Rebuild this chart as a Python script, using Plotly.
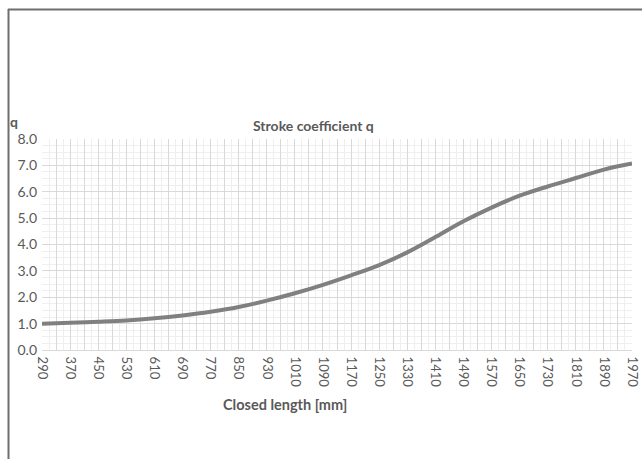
import plotly.graph_objects as go

closed_length = [290, 370, 450, 530, 610, 690, 770, 850, 930, 1010, 1090,
                 1170, 1250, 1330, 1410, 1490, 1570, 1650, 1730, 1810, 1890, 1970]
q_values = [1.00, 1.03, 1.07, 1.12, 1.20, 1.31, 1.45, 1.63, 1.87, 2.15, 2.47,
            2.83, 3.22, 3.70, 4.28, 4.88, 5.40, 5.85, 6.20, 6.52, 6.84, 7.07]
x_tick_labels = [str(v) for v in closed_length]
grid_vals = list(range(290, 1971, 40))
grid_text = [str(v) if str(v) in x_tick_labels else "" for v in grid_vals]
y_tick_vals = [0, 1, 2, 3, 4, 5, 6, 7, 8]
y_tick_labels = ["0.0", "1.0", "2.0", "3.0", "4.0", "5.0", "6.0", "7.0", "8.0"]

FONT = "Lato, 'Open Sans', sans-serif"
TXT = "#595959"

fig = go.Figure()
fig.add_trace(go.Scatter(
    x=closed_length, y=q_values, mode="lines",
    line=dict(color="#808080", width=4, shape="spline"),
    showlegend=False, hoverinfo="skip", cliponaxis=False))

fig.update_layout(
    width=642, height=459,
    margin=dict(l=42, r=10, t=139, b=109, autoexpand=False),
    paper_bgcolor="white", plot_bgcolor="white",
    font=dict(family=FONT, color=TXT, size=12),
    showlegend=False,
)
fig.update_xaxes(
    range=[290, 1970], tickmode="array", tickvals=grid_vals, ticktext=grid_text,
    tickangle=90, tickfont=dict(size=13, color=TXT),
    showgrid=True, gridcolor="#d9d9d9", gridwidth=1,
    minor=dict(tick0=290, dtick=20, showgrid=True, gridcolor="#efefef", gridwidth=1),
    showline=True, linecolor="#d9d9d9", linewidth=1,
    ticks="", zeroline=False, ticklabelstandoff=3, automargin=False,
)
fig.update_yaxes(
    range=[0, 8], tickmode="array", tickvals=y_tick_vals, ticktext=y_tick_labels,
    tickfont=dict(size=14, color=TXT),
    showgrid=True, gridcolor="#d9d9d9", gridwidth=1,
    minor=dict(tick0=0, dtick=0.25, showgrid=True, gridcolor="#efefef", gridwidth=1),
    showline=False, ticks="", zeroline=False, ticklabelstandoff=4, automargin=False,
)

fig.add_annotation(text="<b>Stroke coefficient q</b>", xref="paper", yref="paper",
                   x=(313 - 42) / 590, y=(350 - 126) / 211, showarrow=False,
                   font=dict(size=14, color=TXT, family=FONT), xanchor="center", yanchor="middle")
fig.add_annotation(text="<b>q</b>", xref="paper", yref="paper",
                   x=(14 - 42) / 590, y=(350 - 121) / 211, showarrow=False,
                   font=dict(size=14, color=TXT, family=FONT), xanchor="center", yanchor="middle")
fig.add_annotation(text="<b>Closed length [mm]</b>", xref="paper", yref="paper",
                   x=(285 - 42) / 590, y=(350 - 404) / 211, showarrow=False,
                   font=dict(size=14.5, color=TXT, family=FONT), xanchor="center", yanchor="middle")

# chart frame (left and top edges visible)
fig.add_shape(type="line", xref="paper", yref="paper",
              x0=(8.5 - 42) / 590, x1=(8.5 - 42) / 590, y0=(350 - 9) / 211, y1=(350 - 470) / 211,
              line=dict(color="#6e6e6e", width=2))
fig.add_shape(type="line", xref="paper", yref="paper",
              x0=(8 - 42) / 590, x1=(660 - 42) / 590, y0=(350 - 9.5) / 211, y1=(350 - 9.5) / 211,
              line=dict(color="#6e6e6e", width=2))

fig.write_html("out.html",
               config={"displayModeBar": False},
               post_script="document.body.style.margin='0';"
                           "document.body.style.overflow='hidden';"
                           "document.documentElement.style.overflow='hidden';")
